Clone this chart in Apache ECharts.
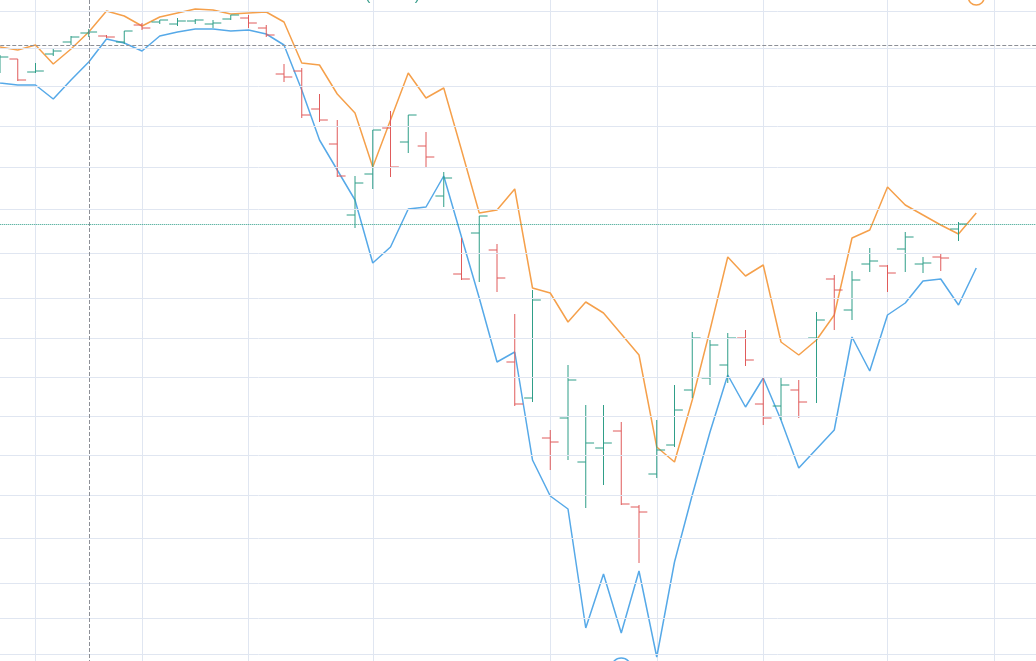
<!DOCTYPE html>
<html>
<head>
<meta charset="utf-8">
<script src="https://cdn.jsdelivr.net/npm/echarts@6/dist/echarts.min.js"></script>
<style>
  html, body { margin: 0; padding: 0; background: #fff; }
  #main { width: 1036px; height: 661px; }
</style>
</head>
<body>
<div id="main"></div>
<script>
// values (price units, bars from day 1 to day 55)
var opens  = [null, 931, 941, 928, 946, 958, 967, 964, 958, 975, 978, 976, 979, 976, 981, 982, 972, 926, 929, 891, 856, 785, 826, 872, 858, 854, 804, 726, 767, 750, 638, 602, 562, 582, 538, 552, 569, 493, 526, 555, 610, 622, 635, 662, 596, 594, 610, 662, 721, 690, 736, 734, 751, 736, 743, 771];
var closes = [null, 943, 920, 929, 949, 963, 968, 963, 969, 972, 980, 979, 980, 977, 985, 977, 965, 923, 885, 880, 824, 817, 870, 833, 885, 843, 822, 721, 784, 722, 596, 700, 558, 620, 557, 557, 496, 488, 550, 590, 662, 655, 662, 640, 582, 615, 598, 680, 710, 720, 739, 727, 763, 737, 742, 776];
var lows   = [null, 927, 919, 927, 944, 955, 963, 962, 956, 970, 976, 974, 976, 972, 980, 972, 963, 918, 882, 878, 823, 772, 811, 823, 847, 833, 793, 720, 718, 708, 594, 598, 530, 540, 492, 515, 495, 437, 522, 553, 602, 615, 617, 634, 575, 580, 582, 597, 670, 680, 728, 708, 728, 727, 729, 759];
var highs  = [null, 945, 941, 937, 951, 964, 971, 965, 969, 977, 980, 982, 981, 980, 985, 985, 975, 936, 932, 906, 880, 824, 870, 889, 885, 868, 828, 762, 784, 756, 686, 710, 570, 635, 595, 595, 578, 495, 580, 615, 668, 660, 667, 670, 622, 622, 620, 688, 725, 729, 752, 735, 768, 743, 747, 778];
var upperLine = [954, 953, 950, 955, 936, 951, 968, 989, 984, 974, 983, 987, 991, 990, 986, 987, 988, 978, 937, 935, 906, 887, 833, 880, 927, 902, 912, 850, 787, 790, 811, 712, 707, 678, 698, 687, 666, 645, 553, 538, 600, 670, 743, 724, 735, 658, 645, 660, 685, 762, 770, 813, 795, 785, 775, 766, 787];
var lowerLine = [920, 917, 915, 915, 901, 920, 938, 961, 957, 949, 964, 968, 971, 971, 969, 970, 966, 955, 910, 860, 830, 800, 737, 753, 791, 793, 824, 763, 702, 638, 648, 540, 504, 491, 372, 426, 367, 429, 343, 438, 505, 568, 625, 593, 622, 580, 532, 551, 570, 663, 629, 685, 697, 719, 721, 695, 732];
var priceLevels = [989, 952, 914, 874, 833, 791, 747, 702, 662, 623, 584, 545, 505, 462, 417, 382, 346];
var splitDays = [3, 9, 15, 22, 32, 38, 44, 51, 57];
var crossDay = 6;
var crossPrice = 955;
var lastClose = 776;

var days = [];
for (var d = 0; d < 62; d++) {
  days.push('D' + d);
}

var ohlc = [];
opens.forEach(function (o, i) {
  if (o != null) {
    ohlc.push([i, o, closes[i], lows[i], highs[i]]);
  }
});

var upColor = '#2f9e88';
var downColor = '#e05b5b';

function renderItem(params, api) {
  var x = api.value(0);
  var openPoint = api.coord([x, api.value(1)]);
  var closePoint = api.coord([x, api.value(2)]);
  var lowPoint = api.coord([x, api.value(3)]);
  var highPoint = api.coord([x, api.value(4)]);
  var halfWidth = api.size([1, 0])[0] * 0.47;
  var color = api.value(2) >= api.value(1) ? upColor : downColor;
  var style = { stroke: color, lineWidth: 1 };
  return {
    type: 'group',
    children: [
      { type: 'line', shape: { x1: lowPoint[0], y1: lowPoint[1], x2: highPoint[0], y2: highPoint[1] }, style: style },
      { type: 'line', shape: { x1: openPoint[0], y1: openPoint[1], x2: openPoint[0] - halfWidth, y2: openPoint[1] }, style: style },
      { type: 'line', shape: { x1: closePoint[0], y1: closePoint[1], x2: closePoint[0] + halfWidth, y2: closePoint[1] }, style: style }
    ]
  };
}

var myChart = echarts.init(document.getElementById('main'));
var option = {
  animation: false,
  title: {
    text: '(OHLC)',
    left: 360,
    top: -17,
    textStyle: { color: '#3a9e8c', fontSize: 16, fontWeight: 'normal' }
  },
  grid: {
    left: -17.75,
    top: -10,
    width: 1082.75,
    height: 710,
    outerBoundsMode: 'none'
  },
  xAxis: {
    type: 'category',
    data: days,
    boundaryGap: false,
    axisLine: { show: false },
    axisTick: { show: false },
    axisLabel: { show: false },
    splitLine: {
      show: true,
      interval: function (index) {
        return splitDays.indexOf(index) > -1;
      },
      lineStyle: { color: '#e0e6f1' }
    }
  },
  yAxis: {
    type: 'value',
    min: 300,
    max: 1010,
    axisLine: { show: false },
    axisTick: { show: false },
    axisLabel: { show: false },
    splitLine: { show: false }
  },
  series: [
    {
      name: 'levels',
      type: 'line',
      data: [],
      z: 1,
      markLine: {
        silent: true,
        symbol: 'none',
        label: { show: false },
        lineStyle: { color: '#e0e6f1', type: 'solid', width: 1 },
        data: priceLevels.map(function (v) { return { yAxis: v }; })
      }
    },
    {
      name: 'upper',
      type: 'line',
      data: upperLine,
      symbol: 'none',
      z: 3,
      lineStyle: { color: '#f5a04b', width: 1.5 },
      markPoint: {
        symbol: 'circle',
        symbolSize: 16,
        itemStyle: { color: '#fff', borderColor: '#f5a04b', borderWidth: 1.5 },
        label: { show: false },
        data: [{ coord: [56, 1003] }]
      }
    },
    {
      name: 'lower',
      type: 'line',
      data: lowerLine,
      symbol: 'none',
      z: 3,
      lineStyle: { color: '#56a9e8', width: 1.5 },
      markPoint: {
        symbol: 'circle',
        symbolSize: 20,
        itemStyle: { color: '#fff', borderColor: '#56a9e8', borderWidth: 1.5 },
        label: { show: false },
        data: [{ coord: [36, 332] }]
      }
    },
    {
      name: 'OHLC',
      type: 'custom',
      renderItem: renderItem,
      data: ohlc,
      z: 4,
      markLine: {
        silent: true,
        symbol: 'none',
        label: { show: false },
        data: [
          { xAxis: crossDay, lineStyle: { color: '#8c8f96', type: 'dashed', width: 1 } },
          { yAxis: crossPrice, lineStyle: { color: '#8c8f96', type: 'dashed', width: 1 } },
          { yAxis: lastClose, lineStyle: { color: '#2f9e88', type: 'dotted', width: 1 } }
        ]
      }
    }
  ]
};
myChart.setOption(option);
</script>
</body>
</html>
